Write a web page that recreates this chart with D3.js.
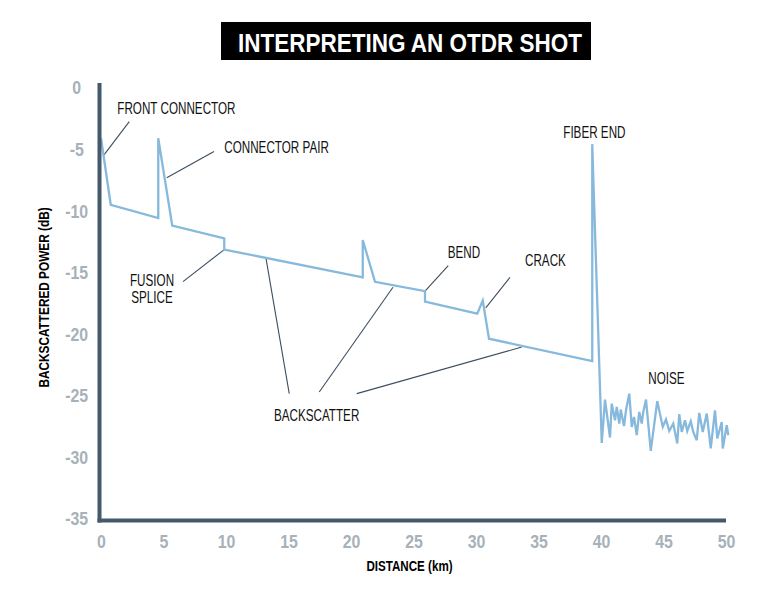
<!DOCTYPE html>
<html>
<head>
<meta charset="utf-8">
<script src="https://cdn.jsdelivr.net/npm/d3@7"></script>
<style>
  body { margin: 0; background: #fff; }
  text { font-family: "Liberation Sans", Arial, sans-serif; }
</style>
</head>
<body>
<div id="chart"></div>
<script>
// trace: distance (km) and power (dB)
const traceKm = [0, 0.78, 4.58, 4.58, 5.70, 9.86, 9.86, 20.94, 20.94, 21.92, 25.92, 25.92,
  30.10, 30.54, 31.04, 39.30, 39.30, 40.06];
const traceDb = [-4.08, -9.48, -10.56, -4.08, -11.18, -12.21, -13.12, -15.37, -12.34, -15.74,
  -16.50, -17.34, -18.33, -17.26, -20.36, -22.17, -4.56, -28.82];

// noise tail after the fiber end
const noiseKm = [40.32, 40.72, 40.86, 41.12, 41.26, 41.46, 41.58, 41.84, 42.00, 42.26, 42.46,
  42.64, 42.86, 43.06, 43.26, 43.38, 43.60, 43.98, 44.50, 44.94, 45.20, 45.46, 45.78, 46.10,
  46.26, 46.46, 46.72, 46.90, 47.18, 47.38, 47.66, 47.86, 48.14, 48.46, 48.78, 49.12, 49.30,
  49.66, 49.74, 50.06, 50.18];
const noiseDb = [-25.30, -28.38, -25.63, -26.98, -25.90, -27.25, -26.11, -27.46, -26.17, -24.82,
  -27.52, -26.71, -28.19, -26.31, -27.25, -26.31, -25.30, -29.47, -25.42, -27.52, -26.92, -27.85,
  -27.25, -28.87, -26.49, -27.93, -26.98, -27.85, -27.06, -27.93, -28.60, -26.39, -27.93, -26.44,
  -29.27, -26.17, -28.46, -27.12, -29.27, -27.38, -28.19];

const xTicks = [0, 5, 10, 15, 20, 25, 30, 35, 40, 45, 50];
const yTicks = [0, -5, -10, -15, -20, -25, -30, -35];

// labels: [text lines, km, dB, anchor]
const labelText = [["FRONT CONNECTOR"], ["CONNECTOR PAIR"], ["FUSION", "SPLICE"], ["BEND"],
  ["CRACK"], ["FIBER END"], ["NOISE"], ["BACKSCATTER"]];
const labelKm = [1.30, 9.86, 4.08, 27.74, 33.92, 36.98, 43.78, 17.25];
const labelDb = [-2.13, -5.24, -16.10, -13.83, -14.42, -4.03, -24.06, -27.04];
const labelAnchor = ["start", "start", "middle", "start", "start", "start", "start", "middle"];

// leader lines: from (km1, dB1) to (km2, dB2)
const leaderKm1 = [2.26, 9.04, 6.56, 15.06, 17.46, 20.46, 27.78, 32.72];
const leaderDb1 = [-2.73, -5.16, -15.72, -24.82, -24.69, -24.82, -14.42, -15.37];
const leaderKm2 = [0.18, 5.26, 9.86, 13.20, 23.36, 33.66, 25.92, 30.78];
const leaderDb2 = [-5.51, -7.29, -13.12, -13.83, -16.18, -21.04, -16.50, -17.85];

const width = 770, height = 598;
const axisColor = "#44596b";
const tickColor = "#a7b1b9";
const traceColor = "#86b9db";
const leaderColor = "#3c4e5f";

const svg = d3.select("#chart").append("svg")
  .attr("width", width)
  .attr("height", height);

const x = d3.scaleLinear().domain([0, 50]).range([101, 726]);
const y = d3.scaleLinear().domain([-35, 0]).range([519, 88]);

// title
svg.append("rect")
  .attr("x", 221).attr("y", 22)
  .attr("width", 370).attr("height", 38)
  .attr("fill", "#000");
svg.append("text")
  .attr("transform", "translate(410,51.5) scale(0.9,1)")
  .attr("text-anchor", "middle")
  .attr("font-weight", "bold")
  .attr("font-size", 25)
  .attr("fill", "#fff")
  .text("INTERPRETING AN OTDR SHOT");

// tick labels via d3 axes (plain hyphen minus, like the reference)
const xAxis = svg.append("g")
  .attr("transform", "translate(0,520.5)")
  .call(d3.axisBottom(x).tickValues(xTicks).tickFormat(d => String(d)).tickSize(0).tickPadding(14.7));
const yAxis = svg.append("g")
  .attr("transform", "translate(99.5,0)")
  .call(d3.axisLeft(y).tickValues(yTicks).tickFormat(d => String(d)).tickSize(0).tickPadding(0));

[xAxis, yAxis].forEach(g => {
  g.select(".domain").remove();
  g.selectAll("text")
    .attr("font-family", "'Liberation Sans', Arial, sans-serif")
    .attr("font-weight", "bold")
    .attr("font-size", 18.5)
    .attr("fill", tickColor)
    .attr("transform", "scale(0.86,1)");
});
yAxis.selectAll("text")
  .attr("text-anchor", "middle")
  .attr("x", -22.8 / 0.86);

// axis titles
svg.append("text")
  .attr("transform", "translate(409.5,570.5) scale(0.8,1)")
  .attr("text-anchor", "middle")
  .attr("font-weight", "bold")
  .attr("font-size", 14.5)
  .text("DISTANCE (km)");
svg.append("text")
  .attr("transform", "translate(48.5,297.5) rotate(-90) scale(0.815,1)")
  .attr("text-anchor", "middle")
  .attr("font-weight", "bold")
  .attr("font-size", 14.5)
  .text("BACKSCATTERED POWER (dB)");

// leader lines
svg.append("g")
  .selectAll("line")
  .data(d3.range(leaderKm1.length))
  .join("line")
    .attr("x1", i => x(leaderKm1[i]))
    .attr("y1", i => y(leaderDb1[i]))
    .attr("x2", i => x(leaderKm2[i]))
    .attr("y2", i => y(leaderDb2[i]))
    .attr("stroke", leaderColor)
    .attr("stroke-width", 1.1);

// OTDR trace + noise
const points = traceKm.map((d, i) => [d, traceDb[i]])
  .concat(noiseKm.map((d, i) => [d, noiseDb[i]]));
const line = d3.line()
  .x(d => x(d[0]))
  .y(d => y(d[1]));
svg.append("path")
  .datum(points)
  .attr("d", line)
  .attr("fill", "none")
  .attr("stroke", traceColor)
  .attr("stroke-width", 2.3)
  .attr("stroke-linejoin", "miter")
  .attr("stroke-miterlimit", 4);

// axis lines
svg.append("line")
  .attr("x1", 99.5).attr("x2", 99.5)
  .attr("y1", 83).attr("y2", 522.5)
  .attr("stroke", axisColor).attr("stroke-width", 4);
svg.append("line")
  .attr("x1", 97.5).attr("x2", x(50))
  .attr("y1", 520.5).attr("y2", 520.5)
  .attr("stroke", axisColor).attr("stroke-width", 4);

// annotation labels
const labels = svg.append("g")
  .selectAll("text")
  .data(d3.range(labelText.length))
  .join("text")
    .attr("transform", i => `translate(${x(labelKm[i])},${y(labelDb[i])}) scale(0.73,1)`)
    .attr("text-anchor", i => labelAnchor[i])
    .attr("font-size", 16)
    .attr("fill", "#111");
labels.selectAll("tspan")
  .data(i => labelText[i])
  .join("tspan")
    .attr("x", 0)
    .attr("dy", (d, j) => j === 0 ? 0 : 16.6)
    .text(d => d);
</script>
</body>
</html>
